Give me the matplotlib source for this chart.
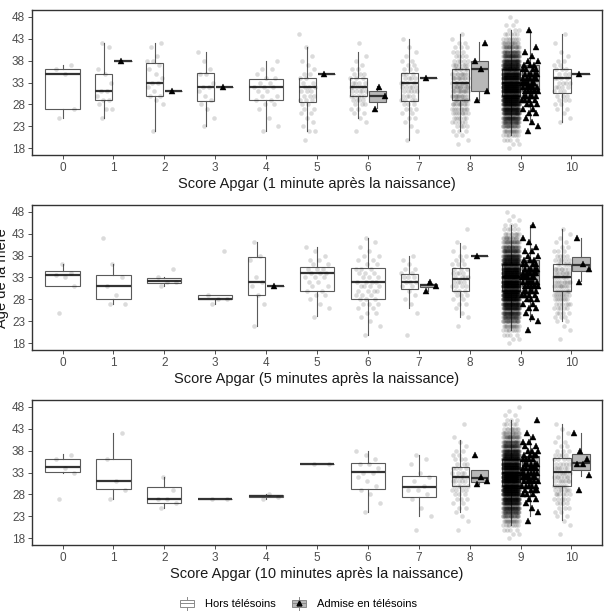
import numpy as np
import matplotlib.pyplot as plt
from matplotlib.lines import Line2D
from matplotlib.patches import Rectangle

plt.rcParams['font.family'] = ['Liberation Sans', 'DejaVu Sans']

scores = list(range(11))
age_ticks = [18, 23, 28, 33, 38, 43, 48]
xlabels = ["Score Apgar (1 minute après la naissance)",
           "Score Apgar (5 minutes après la naissance)",
           "Score Apgar (10 minutes après la naissance)"]
group_names = ["Hors télésoins", "Admise en télésoins"]

# box stats per score: (whisker low, q1, median, q3, whisker high)
hors_box_1 = {0: (25, 27, 35, 36, 37), 1: (25, 29, 31, 35, 42), 2: (22, 30, 33, 37.4, 42),
              3: (23, 28.9, 32, 35.1, 40), 4: (22, 29.1, 32, 33.8, 38), 5: (22, 28.5, 32, 34.1, 41),
              6: (25, 30, 32, 34, 40), 7: (20, 28.7, 33, 35.1, 43), 8: (22, 29, 33, 36, 44),
              9: (21, 30, 33, 36, 45), 10: (24, 30.6, 34, 36, 44)}
adm_box_1 = {1: (38, 38, 38, 38, 38), 2: (31, 31, 31, 31, 31), 3: (32, 32, 32, 32, 32),
             5: (35, 35, 35, 35, 35), 6: (27.2, 28.6, 30, 31.1, 32.3), 7: (34, 34, 34, 34, 34),
             8: (29.1, 31, 36, 38, 42.2), 9: (24.2, 31.1, 33.3, 37, 45), 10: (35, 35, 35, 35, 35)}

hors_box_2 = {0: (31, 31, 33.5, 34.5, 36), 1: (27, 28, 31, 33.5, 36), 2: (31, 31.8, 32.3, 32.9, 33),
              3: (27, 28, 28.2, 28.9, 29), 4: (22, 29.1, 32, 37.6, 41), 5: (24.2, 29.9, 34, 35.4, 40),
              6: (20, 28.1, 32, 35.2, 42), 7: (26, 30.4, 32, 33.9, 38), 8: (24, 30, 32.6, 35.2, 40.8),
              9: (21, 30, 33, 36, 45), 10: (23, 30, 33, 36, 44)}
adm_box_2 = {4: (31, 31, 31, 31, 31), 7: (30, 30.8, 31.2, 31.6, 32.3), 8: (38, 38, 38, 38, 38),
             9: (23, 31, 34, 37, 45), 10: (32.3, 34.4, 35.8, 37.6, 42)}

hors_box_3 = {0: (33, 33.2, 34.2, 36.1, 37.2), 1: (27, 29.3, 31, 36.1, 42), 2: (25, 26.1, 27, 29.6, 32),
              3: (27, 27, 27, 27, 27), 4: (27, 27.4, 27.6, 27.9, 28), 5: (35, 35, 35, 35, 35),
              6: (24, 29.3, 33.2, 35.2, 38), 7: (23, 27.4, 29.6, 32.3, 37), 8: (24, 30, 32, 34.2, 40.3),
              9: (21, 30, 33, 36, 45), 10: (22.3, 30, 33.2, 36.3, 44)}
adm_box_3 = {8: (30.5, 30.9, 31.7, 33.6, 33.6), 9: (23, 31, 33.6, 36.7, 41.2),
             10: (32.3, 33.6, 35.1, 37.2, 42)}

# mothers' ages; big groups as (first age, count for each following year)
hors_pts_1 = {0: [25, 27, 35, 36, 37],
              1: [25, 27, 27, 28, 29, 29, 30, 31, 31, 33, 35, 36, 41, 42],
              2: [22, 28, 29, 30, 30, 31, 32, 33, 33, 34, 35, 36, 37, 38, 38, 39, 41, 42],
              3: [23, 25, 27, 28, 29, 30, 31, 32, 32, 33, 35, 35, 36, 38, 40],
              4: [22, 23, 25, 27, 28, 28, 29, 29, 30, 30, 31, 31, 32, 32, 32, 33, 33, 34, 34, 35, 36, 36, 38],
              5: (20, [1, 0, 2, 1, 1, 1, 2, 2, 2, 3, 3, 3, 3, 2, 2, 2, 1, 1, 1, 1, 0, 1, 0, 0, 1]),
              6: (22, [1, 0, 1, 1, 2, 2, 3, 4, 5, 5, 5, 4, 3, 3, 2, 1, 1, 1, 0, 0, 1]),
              7: (20, [1, 0, 1, 1, 1, 2, 2, 3, 3, 4, 4, 5, 5, 4, 4, 3, 3, 2, 2, 1, 1, 1, 0, 1]),
              8: (19, [1, 1, 2, 3, 4, 5, 6, 8, 9, 10, 11, 12, 12, 12, 11, 10, 9, 8, 7, 5, 4, 3, 3, 2, 1, 1]),
              9: (18, [1, 2, 4, 8, 14, 22, 32, 44, 56, 68, 79, 88, 95, 99, 99, 96, 90, 82, 72, 61, 50,
                       38, 28, 20, 13, 8, 5, 3, 2, 1, 1]),
              10: (24, [1, 1, 1, 2, 2, 3, 3, 3, 4, 4, 4, 3, 3, 2, 2, 1, 1, 0, 1, 0, 1])}
adm_pts_1 = {1: [38], 2: [31], 3: [32], 5: [35], 6: [27, 30, 32], 7: [34],
             8: [29, 31, 36, 38, 42],
             9: (22, [1, 1, 1, 1, 2, 2, 3, 4, 5, 6, 6, 6, 5, 5, 4, 3, 2, 1, 1, 1, 0, 0, 0, 1]),
             10: [35]}

hors_pts_2 = {0: [25, 31, 33, 33.5, 34, 36],
              1: [27, 27, 29, 31, 33, 36, 42],
              2: [31, 32, 32, 33, 35],
              3: [27, 28, 28, 29, 39],
              4: [22, 27, 29, 31, 32, 33, 37, 38, 41],
              5: (24, [1, 0, 1, 1, 1, 2, 2, 2, 2, 3, 3, 3, 2, 2, 1, 1, 1]),
              6: (20, [1, 0, 1, 1, 1, 2, 2, 3, 3, 3, 4, 4, 4, 3, 3, 3, 2, 2, 2, 1, 1, 1, 1]),
              7: (20, [1, 0, 0, 0, 0, 1, 0, 1, 1, 1, 1, 2, 3, 3, 2, 2, 1, 1, 1]),
              8: (22, [1, 0, 1, 1, 1, 2, 2, 3, 3, 4, 4, 4, 4, 3, 3, 2, 2, 1, 1, 1, 0, 0, 1]),
              9: (18, [1, 2, 4, 8, 14, 23, 33, 45, 57, 70, 81, 90, 97, 101, 101, 98, 92, 84, 74, 63, 51,
                       39, 29, 21, 14, 9, 5, 3, 2, 1, 1]),
              10: (19, [1, 0, 1, 1, 2, 3, 4, 5, 6, 7, 8, 9, 9, 9, 8, 8, 7, 6, 5, 4, 3, 2, 2, 1, 1, 1])}
adm_pts_2 = {4: [31], 7: [30, 31, 32], 8: [38],
             9: (21, [1, 0, 1, 1, 1, 2, 2, 3, 4, 5, 6, 6, 6, 5, 5, 4, 3, 2, 2, 1, 1, 1, 0, 0, 1]),
             10: [32, 35, 36, 42]}

hors_pts_3 = {0: [27, 33, 34, 36, 37],
              1: [27, 29, 31, 36, 42],
              2: [25, 26, 27, 27, 29, 32],
              3: [27, 27],
              4: [27, 27.5, 28],
              5: [35, 35],
              6: [24, 26, 28, 29, 30, 31, 32, 33, 33, 34, 35, 35, 36, 37, 38],
              7: [20, 23, 25, 27, 28, 29, 29, 30, 31, 32, 33, 35, 36, 37],
              8: (20, [1, 0, 1, 1, 1, 2, 2, 3, 3, 4, 5, 5, 5, 4, 4, 3, 3, 2, 2, 1, 1, 1, 0, 0, 1]),
              9: (18, [1, 2, 4, 8, 15, 24, 34, 47, 60, 73, 85, 94, 101, 105, 105, 102, 96, 87, 77, 65, 53,
                       41, 30, 22, 14, 9, 5, 3, 2, 1, 1]),
              10: (19, [1, 0, 1, 1, 2, 2, 3, 4, 5, 6, 6, 7, 7, 7, 6, 6, 5, 4, 4, 3, 2, 2, 1, 1, 1, 1])}
adm_pts_3 = {8: [30.5, 31, 32, 37],
             9: (22, [1, 0, 1, 1, 1, 2, 3, 4, 5, 6, 6, 6, 6, 5, 4, 4, 3, 2, 2, 1, 1, 0, 0, 1]),
             10: [29, 32.5, 35, 35, 36, 38, 42]}

panels = [(hors_box_1, hors_pts_1, adm_box_1, adm_pts_1),
          (hors_box_2, hors_pts_2, adm_box_2, adm_pts_2),
          (hors_box_3, hors_pts_3, adm_box_3, adm_pts_3)]

EDGE = '#5a5a5a'
FILLS = ['white', '#b8b8b8']


def expand(p):
    if isinstance(p, tuple):
        start, counts = p
        return np.repeat(np.arange(start, start + len(counts)), counts).astype(float)
    return np.asarray(p, dtype=float)


def spread(n, w):
    # evenly scattered horizontal offsets (jitter look without randomness)
    return ((np.arange(n) * 0.618034 + 0.37) % 1.0 - 0.5) * 2 * w


def draw_panel(ax, hors_box, hors_pts, adm_box, adm_pts):
    for s in scores:
        both = s in hors_box and s in adm_box
        for g, (box, pts) in enumerate([(hors_box, hors_pts), (adm_box, adm_pts)]):
            if s not in box:
                continue
            if both:
                pos, w, jw = s + (-0.1875 if g == 0 else 0.1875), 0.3375, 0.16
            else:
                pos, w, jw = s, 0.675, 0.24
            lo, q1, med, q3, hi = box[s]
            ax.bxp([dict(whislo=lo, q1=q1, med=med, q3=q3, whishi=hi, fliers=[])],
                   positions=[pos], widths=[w], patch_artist=True, showcaps=False,
                   showfliers=False, manage_ticks=False,
                   boxprops=dict(facecolor=FILLS[g], edgecolor=EDGE, linewidth=0.8),
                   whiskerprops=dict(color=EDGE, linewidth=0.8),
                   medianprops=dict(color='#333333', linewidth=1.6, solid_capstyle='butt'))
            ages = expand(pts[s])
            x = pos + spread(len(ages), jw)
            if g == 0:
                ax.plot(x, ages, ls='none', marker='o', ms=3.3, mec='none',
                        mfc='black', alpha=0.14, zorder=3)
            else:
                ax.plot(x, ages, ls='none', marker='^', ms=4.6, mec='black',
                        mfc='black', mew=0.3, zorder=4)


class BoxKey:
    """legend key drawn like a small boxplot"""

    def __init__(self, fill, triangle):
        self.fill = fill
        self.triangle = triangle

    def legend_artist(self, legend, orig_handle, fontsize, handlebox):
        x0, y0 = -handlebox.xdescent, -handlebox.ydescent
        w, h = handlebox.width, handlebox.height
        cx = x0 + w / 2
        tr = handlebox.get_transform()
        whisk = Line2D([cx, cx], [y0 - 0.4 * h, y0 + 1.4 * h], color='#8a8a8a', lw=0.7, transform=tr)
        rect = Rectangle((x0, y0), w, h, facecolor=self.fill, edgecolor='#8a8a8a', lw=0.7, transform=tr)
        med = Line2D([x0, x0 + w], [y0 + h / 2] * 2, color='#8a8a8a', lw=0.7, transform=tr)
        for a in (whisk, rect, med):
            handlebox.add_artist(a)
        if self.triangle:
            tri = Line2D([cx], [y0 + h / 2], ls='none', marker='^', ms=3.5, color='black', transform=tr)
            handlebox.add_artist(tri)
        return rect


fig = plt.figure(figsize=(6.09, 6.11), dpi=100)
bottoms = [0.7463, 0.4272, 0.108]
for i, (hb, hp, ab, ap) in enumerate(panels):
    ax = fig.add_axes([0.0525, bottoms[i], 0.936, 0.2373])
    draw_panel(ax, hb, hp, ab, ap)
    ax.set_xlim(-0.6, 10.6)
    ax.set_ylim(16.5, 49.5)
    ax.set_xticks(scores)
    ax.set_xticklabels([str(s) for s in scores])
    ax.set_yticks(age_ticks)
    ax.tick_params(labelsize=8.5, labelcolor='#4d4d4d', color='#333333', length=3, width=0.6, pad=2)
    for sp in ax.spines.values():
        sp.set_color('#333333')
        sp.set_linewidth(1.0)
    ax.set_xlabel(xlabels[i], fontsize=10.5, color='#1a1a1a', labelpad=2)

fig.text(0.0148, 0.545, "Âge de la mère", rotation=90, ha='right', va='center',
         fontsize=10.5, color='#1a1a1a')

key_hors = Rectangle((0, 0), 1, 1)
key_adm = Rectangle((0, 0), 1, 1)
fig.legend([key_hors, key_adm], group_names, loc='center', bbox_to_anchor=(0.49, 0.011),
           ncol=2, frameon=False, fontsize=8, handlelength=1.3, handleheight=0.6,
           handletextpad=1.0, columnspacing=1.4,
           handler_map={key_hors: BoxKey(FILLS[0], False), key_adm: BoxKey(FILLS[1], True)})

fig.savefig('out.png', dpi=100)
